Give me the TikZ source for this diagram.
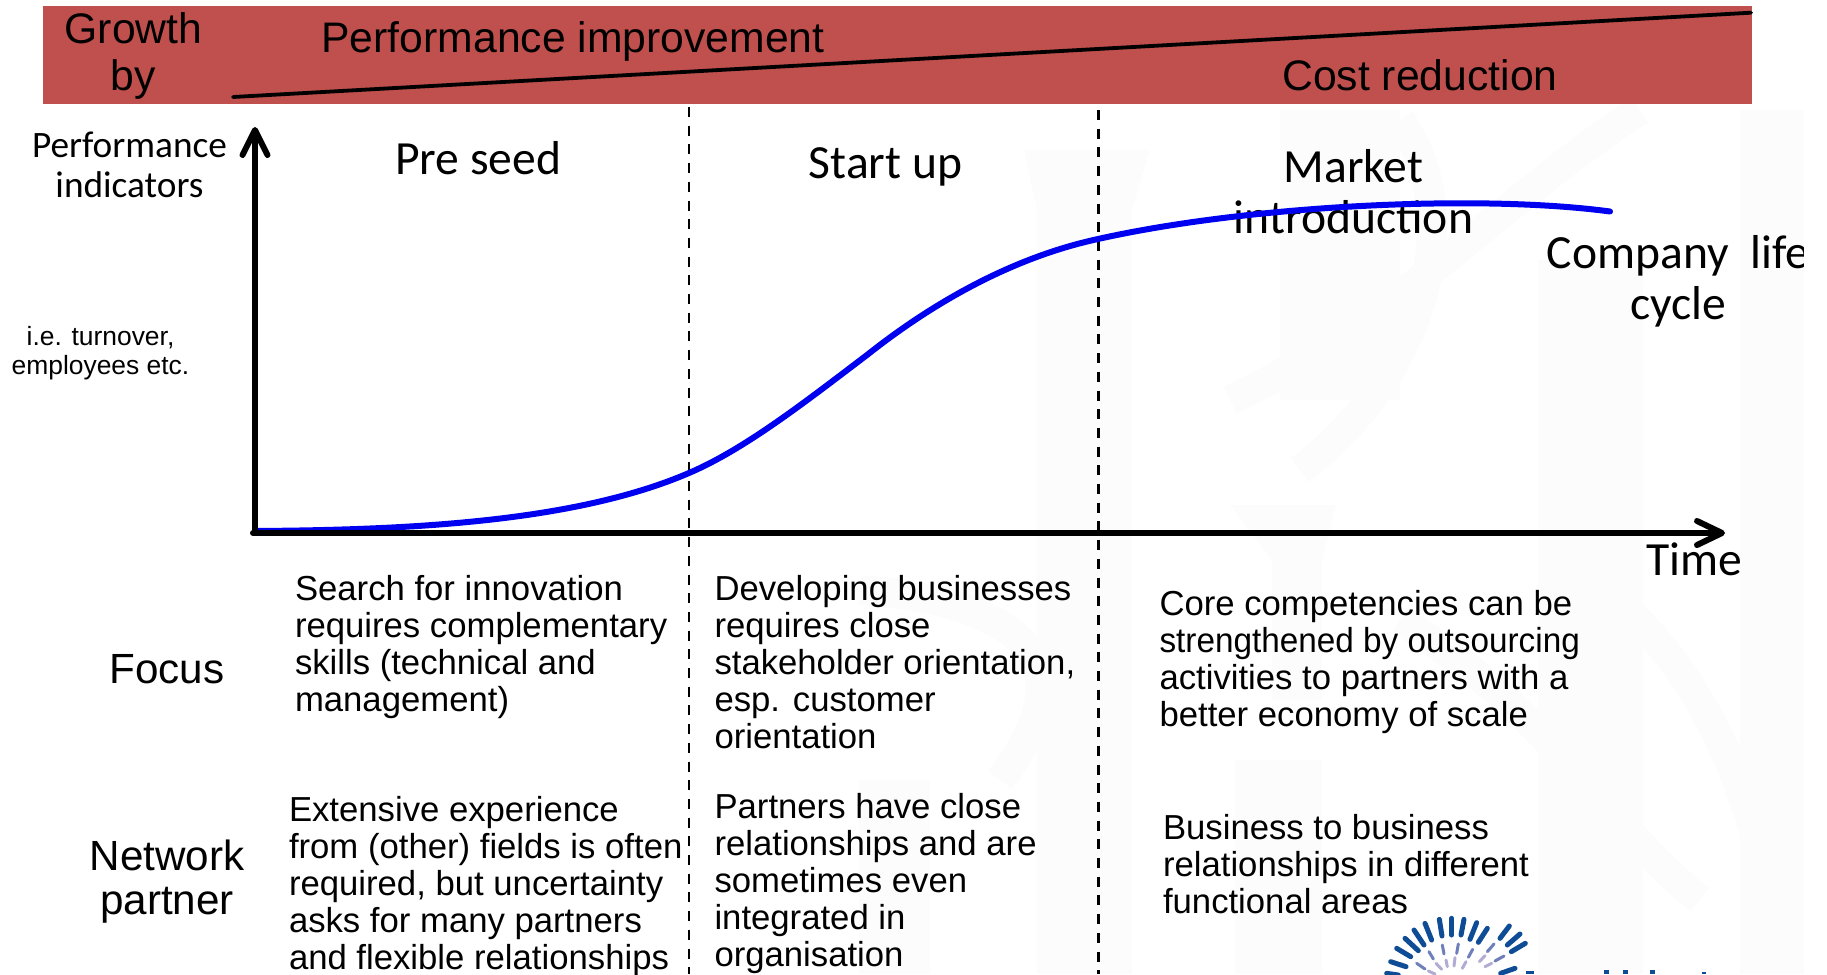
\documentclass[tikz,border=0pt]{standalone}
\usepackage{fontspec}
\setmainfont{Liberation Sans}
\newfontfamily\calfont{Carlito}
\usetikzlibrary{arrows.meta}
\definecolor{bandred}{HTML}{C0504D}
\definecolor{curveblue}{HTML}{0000F0}
\definecolor{logodark}{HTML}{0F4C96}
\definecolor{logomid}{HTML}{6E7FB9}
\definecolor{logolight}{HTML}{B2ABD2}
\definecolor{wm}{HTML}{FCFCFC}
\tikzset{
  x=1pt,y=-1pt,
  txt/.style={inner sep=0pt,outer sep=0pt,align=center},
  head/.style={txt,font=\fontsize{42.7}{47}\selectfont},
  side/.style={txt,font=\fontsize{42.2}{44.5}\selectfont},
  phase/.style={txt,font=\calfont\fontsize{47.6}{51}\selectfont},
  body/.style={txt,align=left,anchor=west,font=\fontsize{34.7}{37}\selectfont},
  smalltxt/.style={txt,font=\fontsize{26.4}{29}\selectfont},
  ylabel/.style={txt,font=\calfont\fontsize{37.3}{40}\selectfont},
  axis/.style={line width=6pt,line cap=round},
  divider/.style={line width=2.4pt,dash pattern=on 10pt off 8.7pt},
  ramp/.style={line width=3.8pt,line cap=round},
  lifecurve/.style={line width=6pt,curveblue,line cap=round},
  wmark/.style={fill=wm,draw=none},
  wstroke/.style={draw=wm,line width=30pt},
  rayd/.style={logodark,line width=5pt,line cap=round},
  raym/.style={logomid,line width=3pt,line cap=round},
  rayl/.style={logolight,line width=3pt,line cap=round},
}
\begin{document}
\begin{tikzpicture}
\useasboundingbox (0,0) rectangle (1827,974);
% watermark
\fill[wmark] (1037,180) rectangle (1132,974);
\fill[wmark] (1024,150) -- (1150,150) -- (1132,210) -- (1037,210) -- cycle;
\fill[wmark] (1280,110) rectangle (1400,400);
\fill[wmark] (1538,260) rectangle (1643,974);
\fill[wmark] (1235,760) rectangle (1322,974);
\fill[wmark] (859,780) rectangle (930,974);
\fill[wmark] (1272,520) rectangle (1322,700);
\fill[wmark] (1230,505) -- (1336,505) -- (1322,560) -- (1272,560) -- cycle;
\fill[wmark] (1740,110) rectangle (1804,974);
\draw[wstroke] (1230,400) .. controls (1400,320) and (1500,200) .. (1640,110);
\draw[wstroke] (1400,120) .. controls (1470,220) and (1420,380) .. (1300,470);
\draw[wstroke] (1400,620) .. controls (1560,720) and (1600,820) .. (1700,900);
\draw[wstroke] (860,590) .. controls (1000,600) and (1100,650) .. (1000,780);
\draw[wstroke] (1560,560) .. controls (1700,640) and (1760,800) .. (1780,960);
% band
\fill[bandred] (43,6) rectangle (1752,104);
\coordinate (rampa) at (233,97);
\coordinate (rampb) at (1751,12.7);
\draw[ramp] (rampa) -- (rampb);
\node[head] (growth) at (133.5,55.5) {Growth\\by};
\node[head] (perf) at (573,41) {Performance improvement};
\node[head] (cost) at (1420,75) {Cost reduction};
% dividers
\coordinate (d1t) at (689,107);
\coordinate (d1b) at (689,974);
\coordinate (d2t) at (1098.5,110);
\coordinate (d2b) at (1098.5,974);
\draw[divider] (d1t) -- (d1b);
\draw[divider] (d2t) -- (d2b);
% labels
\node[ylabel] (pi) at (129.5,165) {Performance\\indicators};
\node[smalltxt] (ie) at (100.5,353) {i.e. turnover,\\employees etc.};
\node[phase] (pre) at (478,158) {Pre seed};
\node[phase] (start) at (885.5,167) {Start up};
\node[phase] (market) at (1353.5,191.5) {Market\\introduction};
\node[phase] (company) at (1678,281.5) {Company~~life\\cycle};
\node[phase] (time) at (1694.5,559.5) {Time};
% curve
\draw[lifecurve] (255,531) .. controls (410,530) and (575,522) .. (689,473)
  .. controls (745,449) and (805,402) .. (867,355)
  .. controls (930,305) and (1010,258) .. (1098,239)
  .. controls (1250,205) and (1480,194) .. (1610,211.5);
% axes
\coordinate (origin) at (253,533);
\coordinate (ytop) at (255,127);
\coordinate (ybase) at (255,533);
\coordinate (xend) at (1725,533);
\draw[axis,-{Straight Barb[length=25pt,width=25pt,round]}] (ybase) -- (ytop);
\draw[axis,-{Straight Barb[length=25pt,width=24pt,round]}] (origin) -- (xend);
% row text
\node[side] (focus) at (167,669) {Focus};
\node[side] (network) at (167,881.5) {Network\\partner};
\node[body] (t1) at (295,647.5) {Search for innovation\\requires complementary\\skills (technical and\\management)};
\node[body] (t2) at (714.5,662) {Developing businesses\\requires close\\stakeholder orientation,\\esp. customer\\orientation};
\node[body] (t3) at (1159.5,662) {Core competencies can be\\\scalebox{0.96}[1]{strengthened by outsourcing}\\activities to partners with a\\better economy of scale};
\node[body] (t4) at (289,886.5) {Extensive experience\\from (other) fields is often\\required, but uncertainty\\asks for many partners\\and flexible relationships};
\node[body] (t5) at (714.5,884) {Partners have close\\relationships and are\\sometimes even\\integrated in\\organisation};
\node[body] (t6) at (1163,864.5) {Business to business\\relationships in different\\functional areas};
% logo
\begin{scope}[shift={(1380,910)},x=0.3333pt,y=-0.3333pt]
\foreach \a/\b/\c/\d in {215/25/215/75,252/28/243/75,290/38/270/88,322/55/295/97,388/48/360/85,420/72/382/105,436/100/394/125,178/28/186/78,135/40/155/90,102/60/132/105,75/85/115/122,50/115/92/140,32/155/78/170,20/190/55/195,405/175/362/190}
  \draw[rayd] (\a,\b) -- (\c,\d);
\foreach \a/\b/\c/\d in {235/102/230/130,187/105/192/132,147/125/160/147,110/160/135/177,278/118/265/142,342/102/322/125,372/138/345/153}
  \draw[raym] (\a,\b) -- (\c,\d);
\foreach \a/\b/\c/\d in {225/143/222/168,198/150/202/170,168/160/185/178,145/183/165/192,258/155/247/175,315/137/298/155,335/160/315/170}
  \draw[rayl] (\a,\b) -- (\c,\d);
\end{scope}
\fill[logodark] (1526,971) rectangle (1534,974);
\fill[logodark] (1604,970) rectangle (1609,974);
\fill[logodark] (1623,970) rectangle (1628,974);
\fill[logodark] (1650,970) rectangle (1655,974);
\fill[logodark] (1702,972) rectangle (1706,974);
% white strip at the right edge
\fill[white] (1804,0) rectangle (1827,974);
\end{tikzpicture}
\end{document}
